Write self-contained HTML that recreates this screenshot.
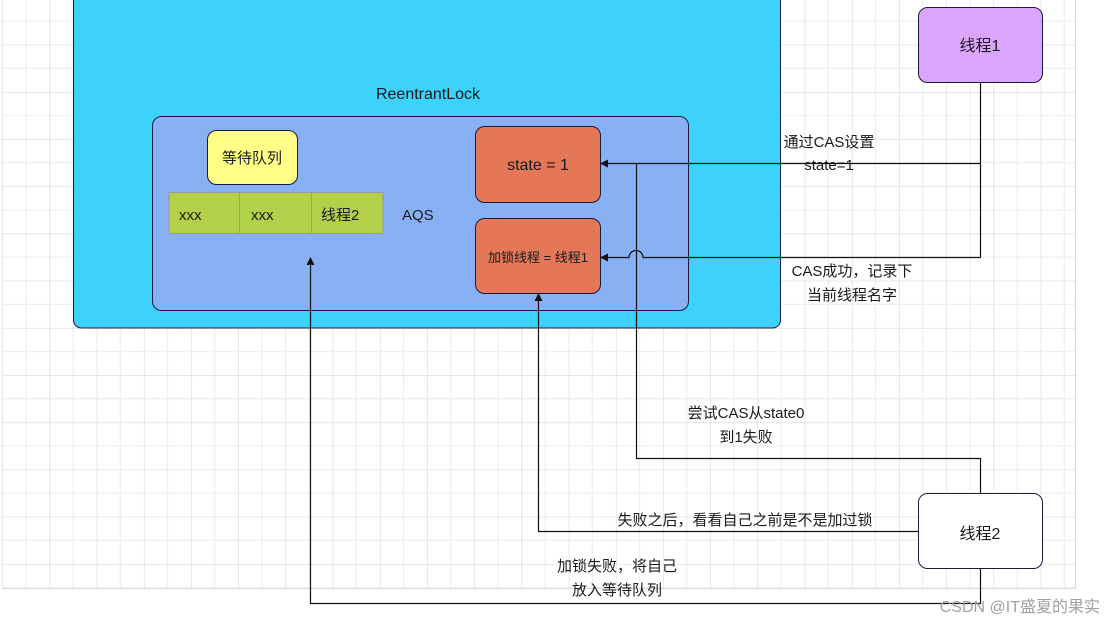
<!DOCTYPE html>
<html><head><meta charset="utf-8"><style>
html,body{margin:0;padding:0;background:#fff;width:1116px;height:625px;overflow:hidden}
svg{display:block}
text{font-family:"Liberation Sans","Noto Sans CJK SC",sans-serif;fill:#1a1a1a}
</style></head><body>
<svg width="1116" height="625" viewBox="0 0 1116 625" xmlns="http://www.w3.org/2000/svg">
<defs>
<pattern id="g" x="2.3" y="-2.5" width="47.2" height="47.2" patternUnits="userSpaceOnUse">
<path d="M23.6 0V47.2M0 23.6H47.2" stroke="#ececec" stroke-width="1" fill="none"/>
<path d="M0 0V47.2M0 0H47.2" stroke="#d9d9d9" stroke-width="1.2" fill="none"/>
</pattern>
<marker id="a" markerWidth="8" markerHeight="8" refX="7" refY="4" orient="auto" markerUnits="userSpaceOnUse"><path d="M0 0L8 4L0 8z" fill="#111"/></marker>
</defs>
<rect x="2" y="0" width="1074" height="588.5" fill="url(#g)"/>
<line x1="1075.5" y1="0" x2="1075.5" y2="588.5" stroke="#d9d9d9"/>
<line x1="2" y1="588.5" x2="1075.5" y2="588.5" stroke="#d9d9d9"/>
<rect x="73.5" y="-10" width="707" height="338" rx="8" fill="#3cd2fc" stroke="#1a1a40" stroke-width="1"/>
<text x="428" y="99" font-size="16" text-anchor="middle">ReentrantLock</text>
<rect x="152.5" y="116.5" width="536" height="194" rx="9" fill="#88b0f4" stroke="#1a1a40"/>
<rect x="207.5" y="130.5" width="90" height="54" rx="9" fill="#ffff88" stroke="#1a1a40"/>
<text x="252" y="163" font-size="15" text-anchor="middle">等待队列</text>
<rect x="169" y="192.5" width="214" height="41" fill="#b3d04b" stroke="#999"/>
<line x1="239.5" y1="192.5" x2="239.5" y2="233.5" stroke="#999"/>
<line x1="311.5" y1="192.5" x2="311.5" y2="233.5" stroke="#999"/>
<text x="179" y="220" font-size="15">xxx</text>
<text x="251" y="220" font-size="15">xxx</text>
<text x="321" y="220" font-size="15">线程2</text>
<text x="402" y="220" font-size="15">AQS</text>
<rect x="475.5" y="126.5" width="125" height="76" rx="9" fill="#e37758" stroke="#1a1a40"/>
<text x="538" y="170" font-size="16" text-anchor="middle">state = 1</text>
<rect x="475.5" y="218.5" width="125" height="75" rx="9" fill="#e37758" stroke="#1a1a40"/>
<text x="538" y="262" font-size="13" text-anchor="middle">加锁线程 = 线程1</text>
<rect x="918.5" y="7.5" width="124" height="75" rx="9" fill="#dca5fd" stroke="#1a1a40"/>
<text x="980" y="51" font-size="16" text-anchor="middle">线程1</text>
<rect x="918.5" y="493.5" width="124" height="75" rx="9" fill="#fff" stroke="#1a1a40"/>
<text x="980" y="539" font-size="16" text-anchor="middle">线程2</text>
<g stroke="#111" stroke-width="1.2" fill="none">
<path d="M980.5 82.5V257.5"/>
<path d="M980.5 163.5H601" marker-end="url(#a)"/>
<path d="M980.5 257.5H643a7 7 0 0 0-14 0H601" marker-end="url(#a)"/>
<path d="M636.5 163.5V458.5H980.5V493.5"/>
<path d="M918.5 531.5H538.5V294" marker-end="url(#a)"/>
<path d="M980.5 568.5V603.5H310.5V258" marker-end="url(#a)"/>
</g>
<g font-size="15" text-anchor="middle">
<text x="829" y="147">通过CAS设置</text>
<text x="829" y="170">state=1</text>
<text x="852" y="276">CAS成功，记录下</text>
<text x="852" y="300">当前线程名字</text>
<text x="746" y="418">尝试CAS从state0</text>
<text x="746" y="442">到1失败</text>
<text x="745" y="525">失败之后，看看自己之前是不是加过锁</text>
<text x="617" y="571">加锁失败，将自己</text>
<text x="617" y="595">放入等待队列</text>
</g>
<text x="1100" y="612" font-size="16" text-anchor="end" style="fill:#a0a0a0">CSDN @IT盛夏的果实</text>
</svg>
</body></html>
